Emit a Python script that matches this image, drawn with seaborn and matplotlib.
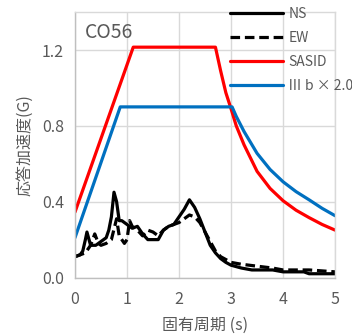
import matplotlib
matplotlib.use("Agg")
import matplotlib.pyplot as plt
import seaborn as sns
import pandas as pd

# ---- data ----
ns_t = [0.0, 0.1, 0.15, 0.2, 0.23, 0.27, 0.3, 0.4, 0.5, 0.6, 0.65, 0.7, 0.75, 0.8, 0.85,
        0.9, 1.0, 1.1, 1.2, 1.3, 1.4, 1.5, 1.6, 1.7, 1.8, 1.9, 2.0, 2.1, 2.2, 2.3,
        2.4, 2.5, 2.6, 2.7, 2.8, 2.9, 3.0, 3.2, 3.4, 3.6, 3.8, 4.0, 4.2, 4.4, 4.5, 4.8, 5.0]
ns_v = [0.11, 0.12, 0.14, 0.2, 0.24, 0.2, 0.17, 0.17, 0.19, 0.21, 0.25, 0.32, 0.45, 0.40, 0.30,
        0.30, 0.28, 0.26, 0.27, 0.23, 0.20, 0.20, 0.20, 0.25, 0.27, 0.28, 0.32, 0.36, 0.41, 0.37,
        0.31, 0.24, 0.17, 0.13, 0.10, 0.08, 0.065, 0.05, 0.04, 0.04, 0.04, 0.03, 0.03, 0.03, 0.02, 0.02, 0.02]

ew_t = [0.0, 0.1, 0.2, 0.3, 0.38, 0.45, 0.5, 0.6, 0.7, 0.8, 0.85, 0.95, 1.0, 1.05, 1.1, 1.2,
        1.3, 1.4, 1.5, 1.6, 1.7, 1.8, 1.9, 2.0, 2.1, 2.2, 2.3, 2.4, 2.5, 2.6, 2.7, 2.8,
        3.0, 3.2, 3.5, 3.8, 4.0, 4.5, 5.0]
ew_v = [0.11, 0.12, 0.13, 0.17, 0.23, 0.18, 0.17, 0.18, 0.20, 0.31, 0.22, 0.18, 0.20, 0.30, 0.27, 0.25,
        0.22, 0.25, 0.24, 0.22, 0.25, 0.27, 0.28, 0.29, 0.31, 0.33, 0.32, 0.29, 0.24, 0.19, 0.14, 0.11,
        0.08, 0.07, 0.06, 0.05, 0.04, 0.04, 0.03]

sasid_t = [0.0, 1.12, 2.70, 2.8, 2.9, 3.0, 3.1, 3.25, 3.5, 3.75, 4.0, 4.25, 4.5, 4.75, 5.0]
sasid_v = [0.345, 1.215, 1.215, 1.09, 0.975, 0.89, 0.80, 0.70, 0.56, 0.47, 0.405, 0.355, 0.316, 0.28, 0.25]

iiib_t = [0.0, 0.87, 3.02, 3.1, 3.25, 3.5, 3.75, 4.0, 4.25, 4.5, 4.75, 5.0]
iiib_v = [0.21, 0.90, 0.90, 0.85, 0.77, 0.655, 0.57, 0.505, 0.453, 0.41, 0.365, 0.326]

labels = ["NS", "EW", "SASID", "Ⅲ b × 2.0"]
x_ticks = [0, 1, 2, 3, 4, 5]
y_ticks = [0.0, 0.4, 0.8, 1.2]
y_ticklabels = ["0.0", "0.4", "0.8", "1.2"]

# ---- style ----
sns.set_theme(style="white")
plt.rcParams["font.family"] = ["Noto Sans CJK JP", "DejaVu Sans"]
txt = "#595959"
grid_c = "#d9d9d9"

fig = plt.figure(figsize=(3.52, 3.36), dpi=100)
ax = fig.add_axes([0.213, 0.174, 0.739, 0.79])

sns.lineplot(x=ns_t, y=ns_v, ax=ax, color="black", lw=2.3, label=labels[0], estimator=None, sort=False)
sns.lineplot(x=ew_t, y=ew_v, ax=ax, color="black", lw=2.3, label=labels[1], estimator=None, sort=False,
             linestyle=(0, (3, 1.5)))
sns.lineplot(x=sasid_t, y=sasid_v, ax=ax, color="#ff0000", lw=2.3, label=labels[2], estimator=None, sort=False)
sns.lineplot(x=iiib_t, y=iiib_v, ax=ax, color="#0070c0", lw=2.3, label=labels[3], estimator=None, sort=False)

ax.set_xlim(0, 5)
ax.set_ylim(0, 1.4)
ax.set_xticks(x_ticks)
ax.set_yticks(y_ticks)
ax.set_yticklabels(y_ticklabels)
ax.grid(True, color=grid_c, lw=1)
ax.set_axisbelow(True)
ax.tick_params(length=0, labelsize=11.5, colors=txt)
ax.tick_params(axis="x", pad=10)
ax.tick_params(axis="y", pad=8)
for s in ax.spines.values():
    s.set_color(grid_c)
    s.set_linewidth(1)
ax.spines["left"].set_color("#bfbfbf")
ax.spines["bottom"].set_color("#bfbfbf")

ax.set_xlabel("固有周期 (s)", color=txt, fontsize=11.5, labelpad=6)
ax.set_ylabel("応答加速度(G)", color=txt, fontsize=11.5, labelpad=6)

ax.text(0.19, 1.295, "CO56", color=txt, fontsize=14, va="center", ha="left")

leg = ax.legend(loc="upper left", bbox_to_anchor=(0.575, 1.04), frameon=False,
                fontsize=10, handlelength=3.8, handletextpad=0.4, labelspacing=0.72,
                borderaxespad=0)
for t in leg.get_texts():
    t.set_color(txt)

fig.savefig("out.png", dpi=100)
